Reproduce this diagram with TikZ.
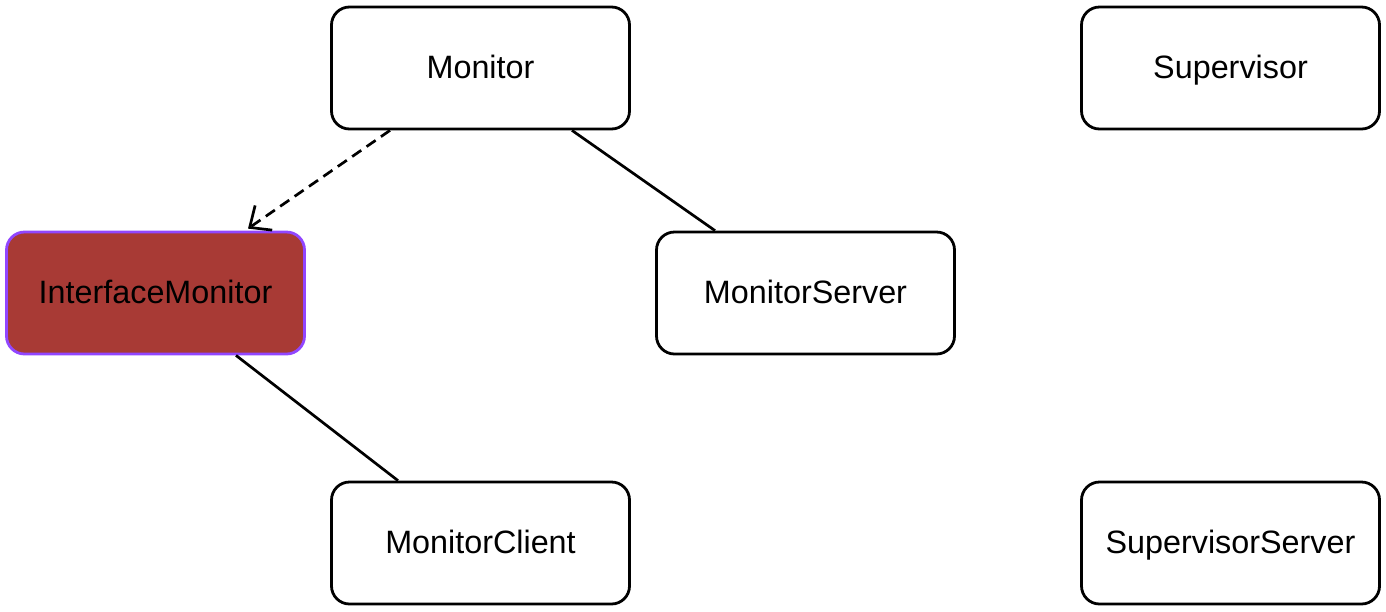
\documentclass[tikz,border=0pt]{standalone}
\usepackage{fontspec}
\setmainfont{Liberation Sans}
\usetikzlibrary{arrows.meta}
\definecolor{ifacefill}{RGB}{168,58,53}
\definecolor{ifacedraw}{RGB}{145,70,255}
\tikzset{
  classbox/.style={draw, line width=0.028cm, rounded corners=0.18cm,
    minimum width=2.98cm, minimum height=1.22cm, inner sep=0pt,
    text height=0.24cm, text depth=0.03cm},
  ifacebox/.style={classbox, fill=ifacefill, draw=ifacedraw},
  assoc/.style={line width=0.027cm},
  depends/.style={line width=0.027cm, dash pattern=on 0.11cm off 0.065cm,
    -{Straight Barb[length=0.17cm,width=0.3cm,line width=0.027cm]}}
}
\begin{document}
\begin{tikzpicture}
                    \useasboundingbox (0.000000,0.000000) rectangle (13.860000,6.110000);
                    {\fontsize{9.2}{11}\selectfont

                    % Drawing class Monitor
                    \node [classbox] (monitor) at (4.805000,5.430000) {Monitor};%

                    % Drawing class Supervisor
                    \node [classbox] (supervisor) at (12.305000,5.430000) {Supervisor};%

                    % Drawing class InterfaceMonitor
                    \node [ifacebox] (ifacemonitor) at (1.555000,3.180000) {InterfaceMonitor};%

                    % Drawing class MonitorServer
                    \node [classbox] (monitorserver) at (8.055000,3.180000) {MonitorServer};%

                    % Drawing class MonitorClient
                    \node [classbox] (monitorclient) at (4.805000,0.680000) {MonitorClient};%

                    % Drawing class SupervisorServer
                    \node [classbox] (supervisorserver) at (12.305000,0.680000) {SupervisorServer};%

                    % Drawing dependency Monitor InterfaceMonitor
                    \draw [depends] ([xshift=-0.905cm]monitor.south) -- ([xshift=0.925cm,yshift=0.02cm]ifacemonitor.north);%

                    % Drawing association Monitor MonitorServer
                    \draw [assoc] ([xshift=0.915cm]monitor.south) -- ([xshift=-0.905cm]monitorserver.north);%

                    % Drawing association InterfaceMonitor MonitorClient
                    \draw [assoc] ([xshift=0.805cm]ifacemonitor.south) -- ([xshift=-0.825cm]monitorclient.north);%
                    }
\end{tikzpicture}
\end{document}
